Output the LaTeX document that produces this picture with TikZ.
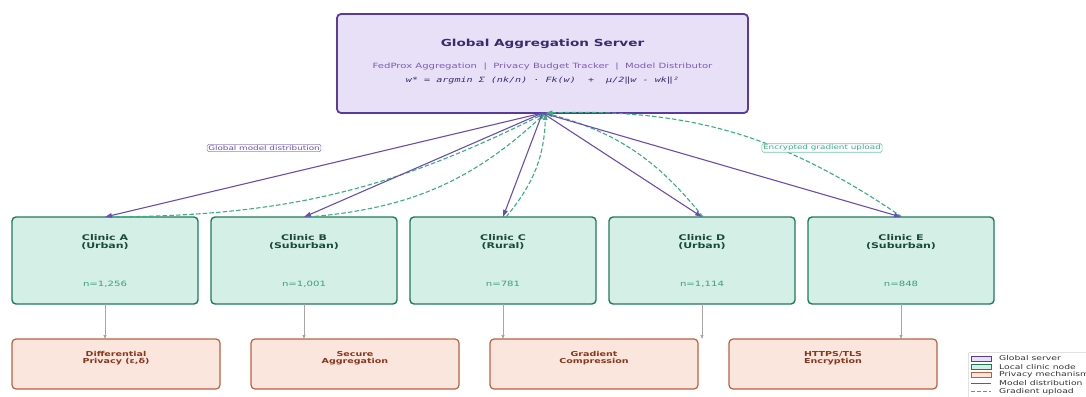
\documentclass[tikz,border=0pt]{standalone}
\usepackage{fontspec}
\setmainfont{DejaVu Sans}[FakeStretch=1.4]
\setmonofont{DejaVu Sans Mono}[FakeStretch=1.4, ItalicFont={DejaVu Sans Mono Oblique}]
\usepackage{tikz}
\usetikzlibrary{arrows.meta,positioning}

\definecolor{srvfill}{HTML}{E8E0F6}
\definecolor{srvdraw}{HTML}{5B3A9E}
\definecolor{srvtext}{HTML}{3A2A6E}
\definecolor{srvsub}{HTML}{7B5CB8}
\definecolor{distcol}{HTML}{6A4DB0}
\definecolor{clinfill}{HTML}{D3EFE6}
\definecolor{clindraw}{HTML}{1F7A5C}
\definecolor{clintext}{HTML}{1B4A3B}
\definecolor{clinn}{HTML}{3C9E7C}
\definecolor{upcol}{HTML}{3AAD82}
\definecolor{privfill}{HTML}{FBE6DD}
\definecolor{privdraw}{HTML}{B8613F}
\definecolor{privtext}{HTML}{8A361B}

\begin{document}
\begin{tikzpicture}[x=1pt, y=-1pt,
  server/.style={draw=srvdraw, fill=srvfill, line width=1.8pt, rounded corners=4pt, minimum width=411pt, minimum height=99pt, inner sep=0pt, outer sep=0pt},
  clinic/.style={draw=clindraw, fill=clinfill, line width=1.4pt, rounded corners=4pt, minimum width=186pt, minimum height=87pt, inner sep=0pt, outer sep=0pt, align=center, text=clintext, font=\fontsize{7.85}{8}\selectfont\bfseries},
  privacy/.style={draw=privdraw, fill=privfill, line width=1.2pt, rounded corners=4pt, minimum width=208pt, minimum height=50pt, inner sep=0pt, outer sep=0pt},
  privlabel/.style={align=center, text=privtext, font=\fontsize{6.8}{7.2}\selectfont\bfseries, inner sep=0pt},
  dist/.style={-{Triangle[length=7pt,width=4.5pt]}, draw=distcol, line width=1.1pt},
  upload/.style={-{Triangle[length=7pt,width=4.5pt]}, draw=upcol, line width=1.1pt, dash pattern=on 4.5pt off 2.2pt},
  down/.style={-{Triangle[length=4pt,width=3pt]}, draw=gray!70, line width=0.8pt},
  tag/.style={fill=white, rounded corners=1.5pt, line width=0.6pt, inner sep=1.2pt, font=\fontsize{6.3}{7}\selectfont},
  patch/.style={minimum width=20pt, minimum height=5pt, inner sep=0pt, line width=0.8pt, anchor=west},
  key/.style={anchor=west, inner sep=0pt, text=black!80, font=\fontsize{6.6}{7}\selectfont}
]
\useasboundingbox (0,0) rectangle (1086,396);
\clip (0,0) rectangle (1086,396);

\node[server] (server) at (542.5,63.5) {};
\node[font=\fontsize{9.7}{11}\selectfont\bfseries, text=srvtext] (srvtitle) at (542.5,44) {Global Aggregation Server};
\node[font=\fontsize{7.2}{8}\selectfont, text=srvsub] (srvparts) at (542.5,67) {FedProx Aggregation~~|~~Privacy Budget Tracker~~|~~Model Distributor};
\node[font=\fontsize{7.2}{8}\selectfont\ttfamily\itshape, text=srvtext] (srvformula) at (542.5,81) {w* = argmin Σ (nk/n) · Fk(w)~~+~~μ/2‖w - wk‖²};

% local clinics
\node[clinic] (clinicA) at (105,260.5) {Clinic A\\(Urban)\\[30pt]{\mdseries\color{clinn}\fontsize{7.25}{8}\selectfont n=1,256}};
\node[clinic, right=13pt of clinicA] (clinicB) {Clinic B\\(Suburban)\\[30pt]{\mdseries\color{clinn}\fontsize{7.25}{8}\selectfont n=1,001}};
\node[clinic, right=13pt of clinicB] (clinicC) {Clinic C\\(Rural)\\[30pt]{\mdseries\color{clinn}\fontsize{7.25}{8}\selectfont n=781}};
\node[clinic, right=13pt of clinicC] (clinicD) {Clinic D\\(Urban)\\[30pt]{\mdseries\color{clinn}\fontsize{7.25}{8}\selectfont n=1,114}};
\node[clinic, right=13pt of clinicD] (clinicE) {Clinic E\\(Suburban)\\[30pt]{\mdseries\color{clinn}\fontsize{7.25}{8}\selectfont n=848}};

% privacy layer
\node[privacy] (dp) at (116,364) {};
\node[privacy, right=31pt of dp] (secagg) {};
\node[privacy, right=31pt of secagg] (gradcomp) {};
\node[privacy, right=31pt of gradcomp] (tls) {};
\node[privlabel] (dptext) at (116,358.5) {Differential\\Privacy (ε,δ)};
\node[privlabel] (secaggtext) at (355,358.5) {Secure\\Aggregation};
\node[privlabel] (gradcomptext) at (594,358.5) {Gradient\\Compression};
\node[privlabel] (tlstext) at (833,358.5) {HTTPS/TLS\\Encryption};

% uploads
\draw[upload] ([xshift=4pt]clinicA.north) to[bend right=13] ([xshift=3pt]server.south);
\draw[upload] ([xshift=4pt]clinicB.north) to[bend right=19] ([xshift=3pt]server.south);
\draw[upload] ([xshift=3pt]clinicC.north) to[bend right=19] ([xshift=3pt]server.south);
\draw[upload] ([xshift=1pt]clinicD.north) to[bend right=18] ([xshift=3pt]server.south);
\draw[upload] ([xshift=1pt]clinicE.north) to[bend right=18] ([xshift=3pt]server.south);

% model distribution
\draw[dist] (server.south) -- (clinicA.north);
\draw[dist] (server.south) -- (clinicB.north);
\draw[dist] (server.south) -- (clinicC.north);
\draw[dist] (server.south) -- (clinicD.north);
\draw[dist] (server.south) -- (clinicE.north);

\node[tag, draw=distcol!70, text=distcol] (disttag) at (264,148) {Global model distribution};
\node[tag, draw=upcol!70, text=upcol] (uptag) at (822,148) {Encrypted gradient upload};

% clinic -> privacy mechanism
\coordinate (dgap) at (clinicD.south |- gradcomp.north);
\draw[down] (clinicA.south) -- (clinicA.south |- dp.north);
\draw[down] (clinicB.south) -- (clinicB.south |- secagg.north);
\draw[down] (clinicC.south) -- (clinicC.south |- gradcomp.north);
\draw[down] (clinicD.south) -- (dgap);
\draw[down] (clinicE.south) -- (clinicE.south |- tls.north);

% legend
\node[draw=gray!35, fill=white, rounded corners=2pt, line width=0.6pt, minimum width=140pt, minimum height=60pt, inner sep=0pt, anchor=north west] (legend) at (968,352) {};
\node[patch, draw=srvdraw, fill=srvfill] (keyserver) at (971,358.5) {};
\node[patch, draw=clindraw, fill=clinfill] (keyclinic) at (971,366.8) {};
\node[patch, draw=privdraw, fill=privfill] (keyprivacy) at (971,375) {};
\draw[distcol, line width=1pt] (971,383.2) -- (991,383.2);
\draw[upcol, line width=1pt, dash pattern=on 4pt off 2pt] (971,391.4) -- (991,391.4);
\node[key] (keyservertext) at (999,358.5) {Global server};
\node[key] (keyclinictext) at (999,366.8) {Local clinic node};
\node[key] (keyprivacytext) at (999,375) {Privacy mechanism};
\node[key] (keydisttext) at (999,383.2) {Model distribution};
\node[key] (keyuploadtext) at (999,391.4) {Gradient upload};

\end{tikzpicture}
\end{document}
